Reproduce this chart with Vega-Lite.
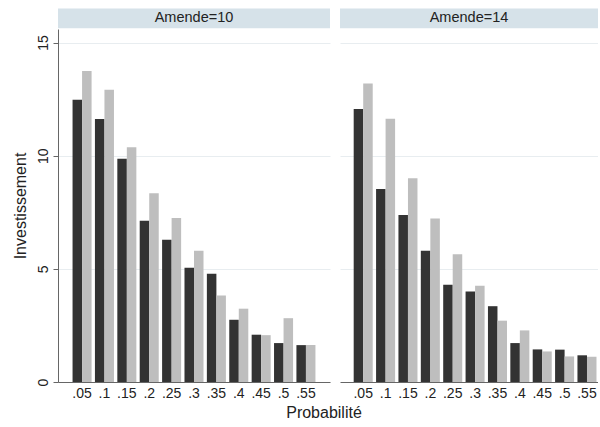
{
  "$schema": "https://vega.github.io/schema/vega-lite/v6.json",
  "padding": {"left": 12, "top": 8, "right": 0, "bottom": 0},
  "autosize": {"type": "pad"},
  "background": "white",
  "data": {"values": [
    {"amende": 10, "p": ".05", "serie": "A", "v": 12.47},
    {"amende": 10, "p": ".05", "serie": "B", "v": 13.74},
    {"amende": 10, "p": ".1", "serie": "A", "v": 11.62},
    {"amende": 10, "p": ".1", "serie": "B", "v": 12.91},
    {"amende": 10, "p": ".15", "serie": "A", "v": 9.87},
    {"amende": 10, "p": ".15", "serie": "B", "v": 10.37},
    {"amende": 10, "p": ".2", "serie": "A", "v": 7.13},
    {"amende": 10, "p": ".2", "serie": "B", "v": 8.34},
    {"amende": 10, "p": ".25", "serie": "A", "v": 6.29},
    {"amende": 10, "p": ".25", "serie": "B", "v": 7.25},
    {"amende": 10, "p": ".3", "serie": "A", "v": 5.05},
    {"amende": 10, "p": ".3", "serie": "B", "v": 5.80},
    {"amende": 10, "p": ".35", "serie": "A", "v": 4.78},
    {"amende": 10, "p": ".35", "serie": "B", "v": 3.82},
    {"amende": 10, "p": ".4", "serie": "A", "v": 2.75},
    {"amende": 10, "p": ".4", "serie": "B", "v": 3.24},
    {"amende": 10, "p": ".45", "serie": "A", "v": 2.09},
    {"amende": 10, "p": ".45", "serie": "B", "v": 2.07},
    {"amende": 10, "p": ".5", "serie": "A", "v": 1.72},
    {"amende": 10, "p": ".5", "serie": "B", "v": 2.82},
    {"amende": 10, "p": ".55", "serie": "A", "v": 1.63},
    {"amende": 10, "p": ".55", "serie": "B", "v": 1.63},
    {"amende": 14, "p": ".05", "serie": "A", "v": 12.06},
    {"amende": 14, "p": ".05", "serie": "B", "v": 13.19},
    {"amende": 14, "p": ".1", "serie": "A", "v": 8.53},
    {"amende": 14, "p": ".1", "serie": "B", "v": 11.63},
    {"amende": 14, "p": ".15", "serie": "A", "v": 7.38},
    {"amende": 14, "p": ".15", "serie": "B", "v": 9.0},
    {"amende": 14, "p": ".2", "serie": "A", "v": 5.80},
    {"amende": 14, "p": ".2", "serie": "B", "v": 7.22},
    {"amende": 14, "p": ".25", "serie": "A", "v": 4.30},
    {"amende": 14, "p": ".25", "serie": "B", "v": 5.65},
    {"amende": 14, "p": ".3", "serie": "A", "v": 4.0},
    {"amende": 14, "p": ".3", "serie": "B", "v": 4.25},
    {"amende": 14, "p": ".35", "serie": "A", "v": 3.35},
    {"amende": 14, "p": ".35", "serie": "B", "v": 2.71},
    {"amende": 14, "p": ".4", "serie": "A", "v": 1.72},
    {"amende": 14, "p": ".4", "serie": "B", "v": 2.28},
    {"amende": 14, "p": ".45", "serie": "A", "v": 1.44},
    {"amende": 14, "p": ".45", "serie": "B", "v": 1.35},
    {"amende": 14, "p": ".5", "serie": "A", "v": 1.43},
    {"amende": 14, "p": ".5", "serie": "B", "v": 1.13},
    {"amende": 14, "p": ".55", "serie": "A", "v": 1.18},
    {"amende": 14, "p": ".55", "serie": "B", "v": 1.12}
  ]},
  "title": {"text": "Probabilité", "orient": "bottom", "anchor": "middle", "fontSize": 16, "fontWeight": "normal", "color": "#222222", "offset": 5, "dx": 19},
  "spacing": 10,
  "hconcat": [
    {
      "width": 272,
      "height": 353,
      "transform": [{"filter": "datum.amende == 10"}],
      "layer": [
        {
          "mark": {"type": "bar"},
          "encoding": {
            "x": {"field": "p", "type": "ordinal", "sort": null,
                  "scale": {"paddingInner": 0.15, "paddingOuter": 0.65},
                  "axis": {"title": null, "ticks": false, "labelAngle": 0, "labelPadding": 4, "labelFontSize": 14, "labelColor": "#222222", "domainColor": "#666666", "grid": false}},
            "xOffset": {"field": "serie", "type": "nominal", "scale": {"paddingInner": 0, "paddingOuter": 0}},
            "y": {"field": "v", "type": "quantitative",
                  "scale": {"domain": [0, 15.6], "nice": false},
                  "axis": {"values": [0, 5, 10, 15], "title": "Investissement", "titleFontSize": 16, "titleFontWeight": "normal", "titleColor": "#222222", "titlePadding": 8,
                           "labelAngle": -90, "labelFontSize": 14, "labelPadding": 3, "labelColor": "#222222", "tickSize": 5, "tickColor": "#666666", "domainColor": "#666666",
                           "grid": true, "gridColor": "#e8edf0"}},
            "color": {"field": "serie", "type": "nominal", "scale": {"domain": ["A", "B"], "range": ["#333333", "#bebebe"]}, "legend": null}
          }
        },
        {
          "transform": [{"filter": "datum.p == '.05' && datum.serie == 'A'"}],
          "mark": {"type": "rect", "fill": "#d6e2e9"},
          "encoding": {"y": {"datum": 15.63}, "y2": {"datum": 16.51}}
        },
        {
          "transform": [{"filter": "datum.p == '.05' && datum.serie == 'A'"}],
          "mark": {"type": "text", "fontSize": 14.5, "color": "#222222", "baseline": "middle", "align": "center"},
          "encoding": {"y": {"datum": 16.07}, "text": {"value": "Amende=10"}}
        }
      ]
    },
    {
      "width": 258,
      "height": 353,
      "transform": [{"filter": "datum.amende == 14"}],
      "layer": [
        {
          "mark": {"type": "bar"},
          "encoding": {
            "x": {"field": "p", "type": "ordinal", "sort": null,
                  "scale": {"paddingInner": 0.15, "paddingOuter": 0.34, "align": 0.9},
                  "axis": {"title": null, "ticks": false, "labelAngle": 0, "labelPadding": 4, "labelFontSize": 14, "labelColor": "#222222", "domainColor": "#666666", "grid": false}},
            "xOffset": {"field": "serie", "type": "nominal", "scale": {"paddingInner": 0, "paddingOuter": 0}},
            "y": {"field": "v", "type": "quantitative",
                  "scale": {"domain": [0, 15.6], "nice": false},
                  "axis": {"values": [5, 10, 15], "title": null, "labels": false, "ticks": false, "domain": false, "grid": true, "gridColor": "#e8edf0"}},
            "color": {"field": "serie", "type": "nominal", "scale": {"domain": ["A", "B"], "range": ["#333333", "#bebebe"]}, "legend": null}
          }
        },
        {
          "transform": [{"filter": "datum.p == '.05' && datum.serie == 'A'"}],
          "mark": {"type": "rect", "fill": "#d6e2e9"},
          "encoding": {"y": {"datum": 15.63}, "y2": {"datum": 16.51}}
        },
        {
          "transform": [{"filter": "datum.p == '.05' && datum.serie == 'A'"}],
          "mark": {"type": "text", "fontSize": 14.5, "color": "#222222", "baseline": "middle", "align": "center"},
          "encoding": {"y": {"datum": 16.07}, "text": {"value": "Amende=14"}}
        }
      ]
    }
  ],
  "config": {"view": {"stroke": null}, "font": "Liberation Sans"}
}
